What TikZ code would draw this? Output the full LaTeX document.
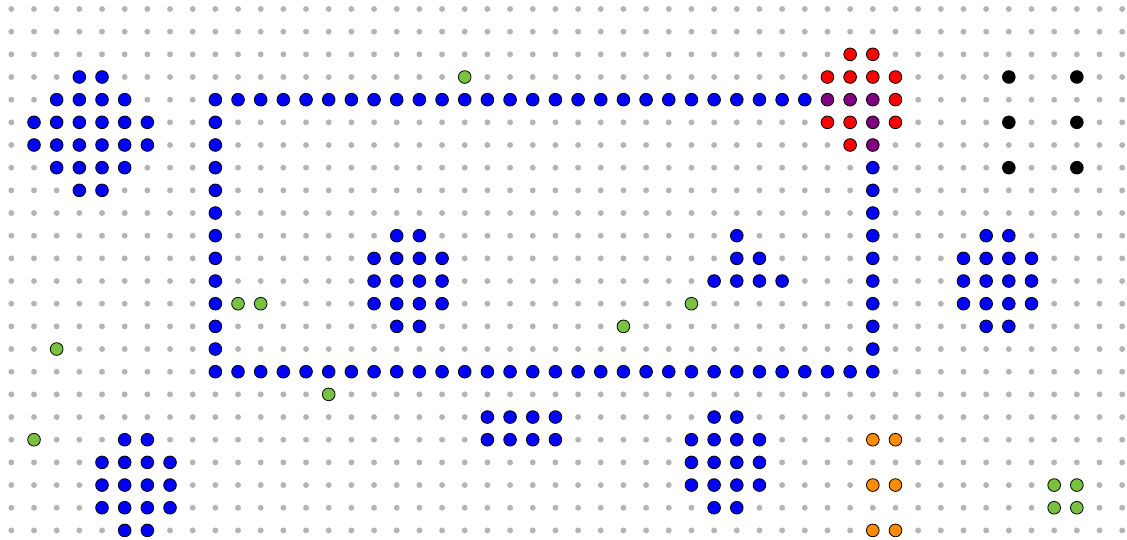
\documentclass[tikz,border=0pt]{standalone}
\usepackage{tikz}
\definecolor{dotgray}{RGB}{180,180,180}
\definecolor{beadgreen}{RGB}{122,193,66}
\definecolor{beadorange}{RGB}{255,140,0}
\definecolor{beadpurple}{RGB}{128,0,128}

\begin{document}
\begin{tikzpicture}[x=0.6cm, y=-0.6cm,
    gridpt/.style={fill=dotgray},
    bead/.style={draw=black, line width=0.6pt}]
  % Frame of the board
  \useasboundingbox (-0.5,-0.397) rectangle (49.213,23.379);

  % Background grid of gray points
  \foreach \c in {0,...,49} {
    \foreach \r in {0,...,23} {\fill[gridpt] (\c,\r) circle (0.13);}
  }

  % Blue runs: row / first column / last column
  \foreach \r/\a/\b in {3/3/4, 4/2/5, 5/1/6, 6/1/6, 7/2/5, 8/3/4,
      4/9/35, 16/9/38,
      10/17/18, 11/16/19, 12/16/19, 13/16/19, 14/17/18,
      10/32/32, 11/32/33, 12/31/34,
      10/43/44, 11/42/45, 12/42/45, 13/42/45, 14/43/44,
      18/21/24, 19/21/24,
      18/31/32, 19/30/33, 20/30/33, 21/30/33, 22/31/32,
      19/5/6, 20/4/7, 21/4/7, 22/4/7, 23/5/6} {
    \foreach \c in {\a,...,\b} {\filldraw[bead, fill=blue] (\c,\r) circle (0.28);}
  }
  % the two vertical sides of the loop
  \foreach \r in {5,...,15} {\filldraw[bead, fill=blue] (9,\r) circle (0.28);}
  \foreach \r in {7,...,15} {\filldraw[bead, fill=blue] (38,\r) circle (0.28);}

  % Red and purple cluster
  \foreach \c/\r in {37/2, 38/2, 36/3, 37/3, 38/3, 39/3, 39/4, 36/5, 37/5, 39/5, 37/6}
    {\filldraw[bead, fill=red] (\c,\r) circle (0.28);}
  \foreach \c/\r in {36/4, 37/4, 38/4, 38/5, 38/6}
    {\filldraw[bead, fill=beadpurple] (\c,\r) circle (0.28);}

  % Black pairs
  \foreach \r in {3,5,7} {
    \filldraw[bead, fill=black] (44,\r) circle (0.28);
    \filldraw[bead, fill=black] (47,\r) circle (0.28);
  }

  % Orange pairs
  \foreach \r in {19,21,23} {
    \filldraw[bead, fill=beadorange] (38,\r) circle (0.28);
    \filldraw[bead, fill=beadorange] (39,\r) circle (0.28);
  }

  % Green singles
  \foreach \c/\r in {20/3, 10/13, 11/13, 2/15, 14/17, 27/14, 30/13, 1/19,
      46/21, 47/21, 46/22, 47/22}
    {\filldraw[bead, fill=beadgreen] (\c,\r) circle (0.28);}

\end{tikzpicture}
\end{document}
